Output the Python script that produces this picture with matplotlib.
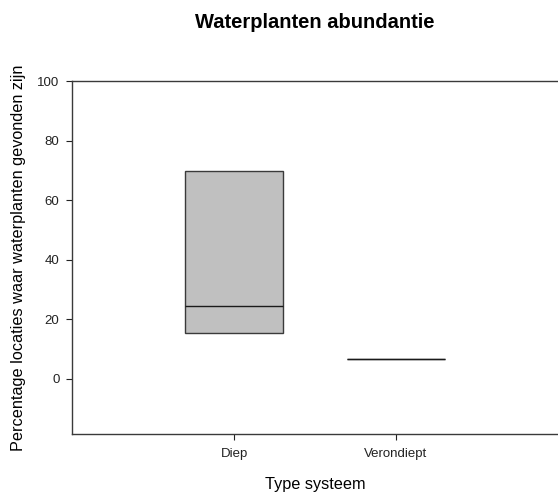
import matplotlib
matplotlib.use("Agg")
import matplotlib.pyplot as plt

plt.rcParams['font.family'] = ['Liberation Sans', 'DejaVu Sans']

categories = ["Diep", "Verondiept"]
q1 = [15.5, 6.7]
medians = [24.5, 6.7]
q3 = [69.7, 6.7]

fig = plt.figure(figsize=(5.58, 4.93), dpi=100)
ax = fig.add_axes([72/558, 59/493, 1 - 72/558, (434 - 81)/493])

stats = []
for name, lo, med, hi in zip(categories, q1, medians, q3):
    stats.append(dict(label=name, q1=lo, med=med, q3=hi, whislo=lo, whishi=hi, fliers=[]))

ax.bxp(stats, positions=[1, 2], widths=0.6, patch_artist=True, showcaps=False,
       boxprops=dict(facecolor='#c0c0c0', edgecolor='#3a3a3a', linewidth=1.0),
       medianprops=dict(color='#1a1a1a', linewidth=1.0),
       whiskerprops=dict(linewidth=0))

ax.set_xlim(0, 3)
ax.set_ylim(-18.5, 100)
ax.set_yticks([0, 20, 40, 60, 80, 100])
ax.set_xticks([1, 2])
ax.set_xticklabels(categories)
ax.spines['right'].set_visible(False)
for s in ['left', 'top', 'bottom']:
    ax.spines[s].set_color('#3a3a3a')
    ax.spines[s].set_linewidth(1.0)
ax.tick_params(direction='out', length=4, labelsize=9.5, colors='#222222')
ax.tick_params(axis='x', pad=6)
ax.tick_params(axis='y', pad=5)

ax.set_title("Waterplanten abundantie", fontsize=14.5, fontweight='bold', pad=38)
ax.set_xlabel("Type systeem", fontsize=11.7, labelpad=12)
ax.set_ylabel("Percentage locaties waar waterplanten gevonden zijn", fontsize=11.7, labelpad=8)

fig.savefig("out.png", dpi=100)
